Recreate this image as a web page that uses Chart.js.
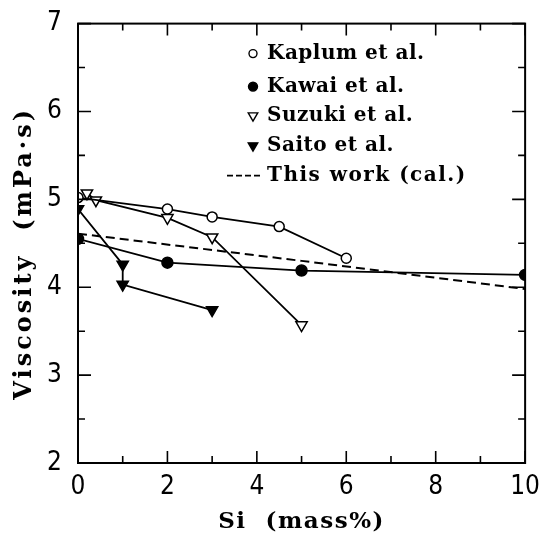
<!DOCTYPE html>
<html>
<head>
<meta charset="utf-8">
<script src="https://cdn.jsdelivr.net/npm/chart.js@4"></script>
<style>
  html, body { margin: 0; padding: 0; background: #fff; }
  #wrap { width: 541px; height: 541px; }
</style>
</head>
<body>
<div id="wrap"><canvas id="chart"></canvas></div>
<script>
// Viscosity vs Si content

// ---- data ----
const kaplumSi  = [0, 2, 3, 4.5, 6];
const kaplumVis = [5.02, 4.89, 4.80, 4.69, 4.33];

const kawaiSi  = [0, 2, 5, 10];
const kawaiVis = [4.55, 4.28, 4.19, 4.14];

const suzukiSi  = [0.2, 0.4, 2, 3, 5];
const suzukiVis = [5.07, 4.99, 4.79, 4.57, 3.57];

const saitoSi  = [0, 1, 1, 3];
const saitoVis = [4.89, 4.26, 4.03, 3.74];

const calcSi  = [0, 5, 10];
const calcVis = [4.61, 4.30, 3.98];

const legendLabels = ['Kaplum et al.', 'Kawai et al.', 'Suzuki et al.', 'Saito et al.', 'This work (cal.)'];

const X_TITLE = 'Si  (mass%)';
const Y_TITLE = 'Viscosity  (mPa·s)';

// ---- helpers ----
const pts = (xs, ys) => xs.map((x, i) => ({ x, y: ys[i] }));
const SERIF = '"DejaVu Serif", serif';
const NARROW = '"DejaVu Sans Condensed", "Liberation Sans Narrow", sans-serif';

const series = (label, data, style, fill, rot, r) => ({
  label,
  data,
  showLine: true,
  borderColor: '#000',
  borderWidth: 1.8,
  pointStyle: style,
  pointRotation: rot,
  pointRadius: r,
  pointBorderWidth: 1.5,
  pointBorderColor: '#000',
  pointBackgroundColor: fill,
  tension: 0
});

// frame, inward ticks, axis titles and the in-plot legend
const framePlugin = {
  id: 'frame',
  afterDatasetsDraw(chart) {
    const { ctx, chartArea: a, scales: { x, y } } = chart;
    ctx.save();
    ctx.strokeStyle = '#000';
    ctx.lineWidth = 2;
    ctx.strokeRect(a.left, a.top, a.right - a.left, a.bottom - a.top);

    ctx.lineWidth = 1.6;
    ctx.beginPath();
    for (let v = 0; v <= 10; v += 1) {
      const px = x.getPixelForValue(v);
      const len = v % 2 === 0 ? 12 : 7;
      ctx.moveTo(px, a.bottom); ctx.lineTo(px, a.bottom - len);
      ctx.moveTo(px, a.top);    ctx.lineTo(px, a.top + len);
    }
    for (let v = 2; v <= 7; v += 0.5) {
      const py = y.getPixelForValue(v);
      const len = Number.isInteger(v) ? 13 : 7;
      ctx.moveTo(a.left, py);  ctx.lineTo(a.left + len, py);
      ctx.moveTo(a.right, py); ctx.lineTo(a.right - len, py);
    }
    ctx.stroke();

    // axis titles (spaced serif, as in the print)
    ctx.fillStyle = '#000';
    ctx.textAlign = 'center';
    ctx.textBaseline = 'middle';
    ctx.font = 'bold 23px ' + SERIF;
    ctx.letterSpacing = '1.5px';
    ctx.fillText(X_TITLE, (a.left + a.right) / 2, 522);
    ctx.font = 'bold 24px ' + SERIF;
    ctx.letterSpacing = '3px';
    ctx.save();
    ctx.translate(25, (a.top + a.bottom) / 2 + 10);
    ctx.rotate(-Math.PI / 2);
    ctx.fillText(Y_TITLE, 0, 0);
    ctx.restore();

    // legend
    const lx = a.left + 175, tx = a.left + 189;
    const rows = [a.top + 30, a.top + 63, a.top + 92, a.top + 122, a.top + 152];
    ctx.font = 'bold 20px ' + SERIF;
    ctx.textAlign = 'left';
    chart.data.datasets.forEach((ds, i) => {
      const yy = rows[i];
      ctx.letterSpacing = '0.5px';
      if (ds.borderDash && ds.borderDash.length) {
        ctx.letterSpacing = '1.5px';
        ctx.save();
        ctx.lineWidth = 1.6;
        ctx.setLineDash([6, 3]);
        ctx.beginPath();
        ctx.moveTo(a.left + 149, yy); ctx.lineTo(tx - 5, yy);
        ctx.stroke();
        ctx.restore();
      } else {
        ctx.save();
        ctx.lineWidth = 1.4;
        ctx.fillStyle = ds.pointBackgroundColor;
        ctx.strokeStyle = '#000';
        Chart.helpers.drawPoint(ctx, {
          pointStyle: ds.pointStyle,
          rotation: ds.pointRotation,
          radius: ds.pointRadius - 1,
          borderWidth: 1.4
        }, lx, yy);
        ctx.restore();
      }
      ctx.fillText(legendLabels[i], tx, yy);
    });
    ctx.restore();
  }
};

const chart = new Chart(document.getElementById('chart'), {
  type: 'scatter',
  data: {
    datasets: [
      series(legendLabels[0], pts(kaplumSi, kaplumVis), 'circle', '#fff', 0, 5),
      series(legendLabels[1], pts(kawaiSi, kawaiVis), 'circle', '#000', 0, 5.5),
      series(legendLabels[2], pts(suzukiSi, suzukiVis), 'triangle', '#fff', 180, 6.5),
      series(legendLabels[3], pts(saitoSi, saitoVis), 'triangle', '#000', 180, 6.5),
      {
        label: legendLabels[4],
        data: pts(calcSi, calcVis),
        showLine: true,
        borderColor: '#000',
        borderWidth: 2,
        borderDash: [9, 5],
        pointRadius: 0,
        tension: 0
      }
    ]
  },
  options: {
    responsive: true,
    maintainAspectRatio: false,
    animation: false,
    layout: { padding: { top: 13, right: 13, bottom: 0, left: 0 } },
    plugins: { legend: { display: false }, tooltip: { enabled: false } },
    scales: {
      x: {
        type: 'linear',
        min: 0, max: 10,
        grid: { display: false },
        border: { display: false },
        ticks: {
          stepSize: 2,
          padding: 1,
          color: '#000',
          font: { family: NARROW, size: 26 }
        },
        afterFit: s => { s.height = 541 - 463; }
      },
      y: {
        type: 'linear',
        min: 2, max: 7,
        grid: { display: false },
        border: { display: false },
        ticks: {
          stepSize: 1,
          padding: 8,
          color: '#000',
          font: { family: NARROW, size: 26 }
        },
        afterFit: s => { s.width = 78; }
      }
    }
  },
  plugins: [framePlugin]
});
</script>
</body>
</html>
